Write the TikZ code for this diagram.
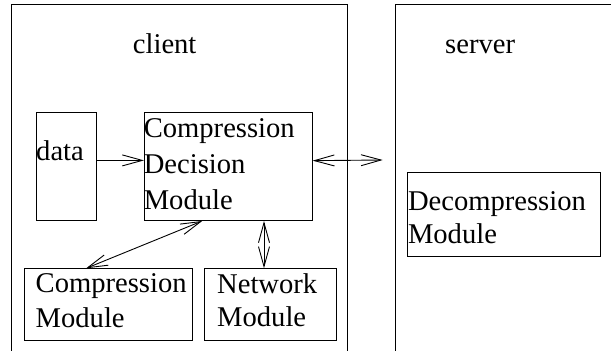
\documentclass[tikz,border=0pt]{standalone}
\usepackage{fontspec}
\setmainfont{Liberation Serif}
\usetikzlibrary{arrows.meta}
\begin{document}
\begin{tikzpicture}[x=1pt,y=-1pt,
  frame/.style={line width=1pt},
  box/.style={draw, line width=1pt, inner sep=0pt, anchor=north west},
  lbl/.style={font=\fontsize{28.6}{35}\selectfont, inner sep=0pt, anchor=base west, align=left},
  barb/.tip={Straight Barb[length=20pt,width=11pt]},
  link/.style={line width=0.9pt, -barb},
  both/.style={line width=0.9pt, barb-barb}]
\useasboundingbox (0,0) rectangle (611,351);

% client and server regions (open at the page edges)
\draw[frame] (11.7,351) -- (11.7,4.5) -- (347.7,4.5) -- (347.7,351);
\draw[frame] (395.5,351) -- (395.5,4.5) -- (611,4.5);
\node[lbl] (clientlbl) at (132.7,53.3) {client};
\node[lbl] (serverlbl) at (445,53) {server};

% module boxes
\node[box, minimum width=60pt,    minimum height=107.2pt] (data) at (35.7,112.3) {};
\node[box, minimum width=167.7pt, minimum height=107.7pt] (cdm)  at (144,112.3) {};
\node[box, minimum width=168.3pt, minimum height=71.7pt]  (cm)   at (23.7,268.3) {};
\node[box, minimum width=132pt,   minimum height=71.7pt]  (net)  at (204,268.3) {};
\node[box, minimum width=192.7pt, minimum height=83.4pt]  (dec)  at (407.3,172.3) {};

% box texts, each placed by the baseline of its last line
\node[lbl] (datatxt) at (36,160) {data};
\node[lbl, font=\fontsize{28.6}{36}\selectfont] (cdmtxt) at (143.6,209.3) {Compression\\Decision\\Module};
\node[lbl, font=\fontsize{28.6}{35.4}\selectfont] (cmtxt) at (35.5,327.8) {Compression\\Module};
\node[lbl, font=\fontsize{28.6}{33.4}\selectfont] (nettxt) at (217,326.7) {Network\\Module};
\node[lbl, font=\fontsize{28.6}{33.6}\selectfont] (dectxt) at (407.8,243.6) {Decompression\\Module};

% connectors
\coordinate (ext) at (382.7,160);
\draw[link] ([yshift=6pt]data.east) -- ([yshift=6pt]data.east -| cdm.west);
\draw[both] ([yshift=6pt]cdm.east) -- (ext);
\draw[both] ([xshift=-26.2pt]cdm.south) -- ([xshift=-22.2pt]cm.north);
\draw[both] ([xshift=-6.5pt]net.north |- cdm.south) -- ([xshift=-6.5pt]net.north);
\end{tikzpicture}
\end{document}
